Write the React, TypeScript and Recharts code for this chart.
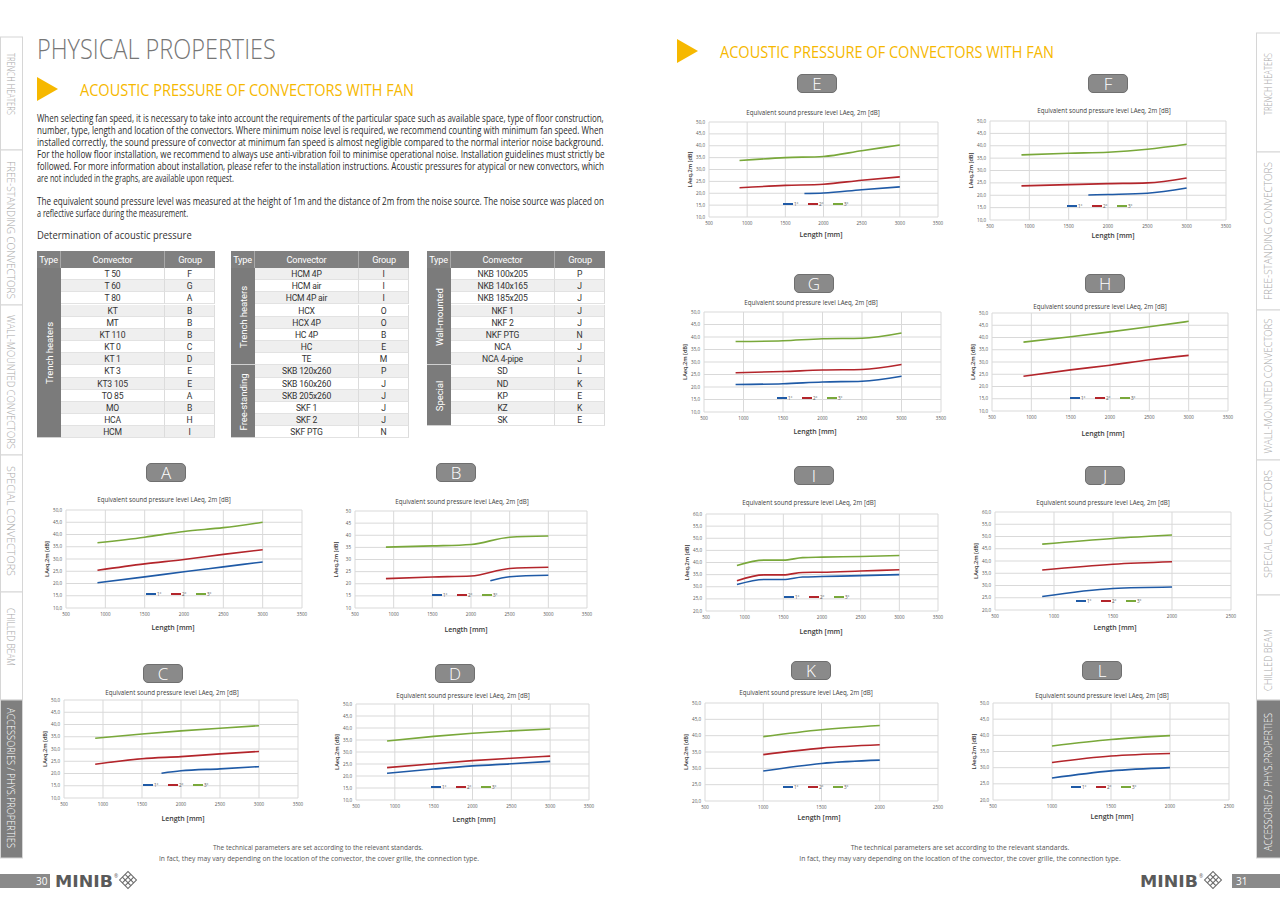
import React, { useLayoutEffect, useRef } from "react";
import { LineChart, Line, XAxis, YAxis, CartesianGrid, Legend } from "recharts";

const BLUE = "#1f5aa6";
const RED = "#b3252b";
const GREEN = "#79a83a";
const YELLOW = "#f6b800";

// tick labels
const xTicks3500 = [500, 1000, 1500, 2000, 2500, 3000, 3500];
const xTicks2500 = [500, 1000, 1500, 2000, 2500];
const yTicks10to50 = [10, 15, 20, 25, 30, 35, 40, 45, 50];
const yTicks20to60 = [20, 25, 30, 35, 40, 45, 50, 55, 60];
const yTicks20to50 = [20, 25, 30, 35, 40, 45, 50];

// A
const lenA = [900, 1500, 2000, 2500, 3000];
const a1 = [20.3, 22.7, 24.8, 26.8, 28.8];
const a2 = [25.4, 28.0, 29.8, 31.9, 33.8];
const a3 = [36.6, 38.9, 41.2, 42.8, 45.0];
// B
const lenB = [900, 1500, 2000, 2500, 3000];
const lenB1 = [2250, 2500, 3000];
const b1 = [21.2, 22.9, 23.5];
const b2 = [22.1, 22.8, 23.2, 26.3, 26.8];
const b3 = [35.1, 35.6, 36.2, 39.2, 39.7];
// C
const lenC = [900, 1500, 2000, 2500, 3000];
const lenC1 = [1750, 2000, 2500, 3000];
const c1 = [20.1, 21.1, 21.9, 22.8];
const c2 = [23.8, 26.0, 26.9, 28.0, 29.0];
const c3 = [34.4, 36.1, 37.4, 38.5, 39.5];
// D
const lenD = [900, 1500, 2000, 2500, 3000];
const d1 = [21.1, 22.9, 24.2, 25.1, 26.1];
const d2 = [23.5, 25.1, 26.4, 27.4, 28.3];
const d3 = [34.6, 36.5, 37.8, 38.8, 39.6];
// E
const lenE = [900, 1500, 2000, 2500, 3000];
const lenE1 = [1750, 2000, 2500, 3000];
const e1 = [19.9, 20.1, 21.5, 22.7];
const e2 = [22.3, 23.3, 23.8, 25.5, 26.9];
const e3 = [33.8, 35.0, 35.5, 37.9, 40.3];
// F
const lenF = [900, 1500, 2000, 2500, 3000];
const lenF1 = [1750, 2000, 2500, 3000];
const f1 = [20.1, 20.3, 20.8, 22.9];
const f2 = [23.8, 24.3, 24.7, 25.0, 27.0];
const f3 = [36.3, 37.0, 37.4, 38.6, 40.6];
// G
const lenG = [900, 1500, 2000, 2500, 3000];
const g1 = [21.0, 21.3, 22.0, 22.3, 24.3];
const g2 = [25.7, 26.2, 26.8, 27.0, 29.0];
const g3 = [38.2, 38.5, 39.3, 39.5, 41.6];
// H
const lenH = [900, 1500, 2000, 2500, 3000];
const h1: number[] = [];
const h2 = [24.2, 26.8, 28.7, 30.9, 32.7];
const h3 = [38.1, 40.3, 42.3, 44.4, 46.6];
// I
const lenI = [900, 1250, 1500, 1750, 2000, 2500, 3000];
const i1 = [30.9, 33.0, 33.0, 34.0, 34.2, 34.6, 35.0];
const i2 = [32.5, 34.9, 34.9, 35.9, 36.0, 36.5, 37.0];
const i3 = [38.8, 41.0, 41.0, 42.0, 42.2, 42.5, 42.9];
// J
const lenJ = [900, 1500, 2000];
const j1 = [25.5, 28.8, 29.4];
const j2 = [36.3, 38.7, 39.7];
const j3 = [46.9, 49.2, 50.6];
// K
const lenK = [1000, 1500, 2000];
const k1 = [29.2, 31.5, 32.5];
const k2 = [34.2, 36.2, 37.2];
const k3 = [39.7, 41.8, 43.1];
// L
const lenL = [1000, 1500, 2000];
const l1 = [26.8, 29.0, 30.0];
const l2 = [31.6, 33.6, 34.4];
const l3 = [36.7, 38.7, 39.9];

// tables
const t1Conv = ["T 50", "T 60", "T 80", "KT", "MT", "KT 110", "KT 0", "KT 1", "KT 3", "KT3 105", "TO 85", "MO", "HCA", "HCM"];
const t1Group = ["F", "G", "A", "B", "B", "B", "C", "D", "E", "E", "A", "B", "H", "I"];
const t1Types: [string, number][] = [["Trench heaters", 14]];
const t2Conv = ["HCM 4P", "HCM air", "HCM 4P air", "HCX", "HCX 4P", "HC 4P", "HC", "TE", "SKB 120x260", "SKB 160x260", "SKB 205x260", "SKF 1", "SKF 2", "SKF PTG"];
const t2Group = ["I", "I", "I", "O", "O", "B", "E", "M", "P", "J", "J", "J", "J", "N"];
const t2Types: [string, number][] = [["Trench heaters", 8], ["Free-standing", 6]];
const t3Conv = ["NKB 100x205", "NKB 140x165", "NKB 185x205", "NKF 1", "NKF 2", "NKF PTG", "NCA", "NCA 4-pipe", "SD", "ND", "KP", "KZ", "SK"];
const t3Group = ["P", "J", "J", "J", "J", "N", "J", "J", "L", "K", "E", "K", "E"];
const t3Types: [string, number][] = [["Wall-mounted", 8], ["Special", 5]];

const para = [
  "When selecting fan speed, it is necessary to take into account the requirements of the particular space such as available space, type of floor construction,",
  "number, type, length and location of the convectors. Where minimum noise level is required, we recommend counting with minimum fan speed. When",
  "installed correctly, the sound pressure of convector at minimum fan speed is almost negligible compared to the normal interior noise background.",
  "For the hollow floor installation, we recommend to always use anti-vibration foil to minimise operational noise. Installation guidelines must strictly be",
  "followed. For more information about installation, please refer to the installation instructions. Acoustic pressures for atypical or new convectors, which",
  "are not included in the graphs, are available upon request.",
];
const para2 = [
  "The equivalent sound pressure level was measured at the height of 1m and the distance of 2m from the noise source. The noise source was placed on",
  "a reflective surface during the measurement.",
];
const footer1 = "The technical parameters are set according to the relevant standards.";
const footer2 = "In fact, they may vary depending on the location of the convector, the cover grille, the connection type.";
const tabNames = ["TRENCH HEATERS", "FREE-STANDING CONVECTORS", "WALL-MOUNTED CONVECTORS", "SPECIAL CONVECTORS", "CHILLED BEAM", "ACCESSORIES / PHYS.PROPERTIES"];

type Series = { name: string; color: string; xs: number[]; ys: number[] };
type Cfg = {
  id: string;
  x0: number; x1: number; y0: number; y1: number;
  xTicks: number[]; yTicks: number[]; intY?: boolean;
  title: [number, number]; len: [number, number]; badge: [number, number]; leg: [number, number];
  series: Series[];
};

const trio = (x1: number[], y1: number[], x2: number[], y2: number[], x3: number[], y3: number[]): Series[] => [
  { name: "1°", color: BLUE, xs: x1, ys: y1 },
  { name: "2°", color: RED, xs: x2, ys: y2 },
  { name: "3°", color: GREEN, xs: x3, ys: y3 },
];

const charts: Cfg[] = [
  { id: "A", x0: 66, x1: 302, y0: 510, y1: 608, xTicks: xTicks3500, yTicks: yTicks10to50, title: [164, 500], len: [173, 627], badge: [146, 463], leg: [146, 594], series: trio(lenA, a1, lenA, a2, lenA, a3) },
  { id: "B", x0: 355, x1: 587, y0: 511, y1: 608, xTicks: xTicks3500, yTicks: yTicks10to50, intY: true, title: [462, 502], len: [466, 629], badge: [436, 463], leg: [432, 595], series: trio(lenB1, b1, lenB, b2, lenB, b3) },
  { id: "C", x0: 64, x1: 298, y0: 700, y1: 798, xTicks: xTicks3500, yTicks: yTicks10to50, title: [172, 693], len: [183, 818], badge: [143, 664], leg: [143, 785], series: trio(lenC1, c1, lenC, c2, lenC, c3) },
  { id: "D", x0: 356, x1: 589, y0: 704, y1: 800, xTicks: xTicks3500, yTicks: yTicks10to50, title: [463, 696], len: [474, 819], badge: [435, 664], leg: [431, 787], series: trio(lenD, d1, lenD, d2, lenD, d3) },
  { id: "E", x0: 709, x1: 938, y0: 122, y1: 217, xTicks: xTicks3500, yTicks: yTicks10to50, title: [813, 113], len: [821, 234], badge: [797, 74], leg: [783, 204], series: trio(lenE1, e1, lenE, e2, lenE, e3) },
  { id: "F", x0: 990, x1: 1226, y0: 121, y1: 220, xTicks: xTicks3500, yTicks: yTicks10to50, title: [1104, 111], len: [1113, 235], badge: [1088, 74], leg: [1067, 206], series: trio(lenF1, f1, lenF, f2, lenF, f3) },
  { id: "G", x0: 704, x1: 941, y0: 312, y1: 412, xTicks: xTicks3500, yTicks: yTicks10to50, title: [811, 303], len: [815, 431], badge: [794, 274], leg: [777, 398], series: trio(lenG, g1, lenG, g2, lenG, g3) },
  { id: "H", x0: 992, x1: 1228, y0: 313, y1: 411, xTicks: xTicks3500, yTicks: yTicks10to50, title: [1100, 307], len: [1103, 433], badge: [1085, 274], leg: [1070, 398], series: trio(lenH, h1, lenH, h2, lenH, h3) },
  { id: "I", x0: 706, x1: 938, y0: 514, y1: 611, xTicks: xTicks3500, yTicks: yTicks20to60, title: [809, 503], len: [821, 631], badge: [794, 466], leg: [784, 597], series: trio(lenI, i1, lenI, i2, lenI, i3) },
  { id: "J", x0: 995, x1: 1231, y0: 512, y1: 610, xTicks: xTicks2500, yTicks: yTicks20to60, title: [1103, 503], len: [1115, 627], badge: [1085, 466], leg: [1076, 601], series: trio(lenJ, j1, lenJ, j2, lenJ, j3) },
  { id: "K", x0: 705, x1: 938, y0: 703, y1: 801, xTicks: xTicks2500, yTicks: yTicks20to50, title: [806, 693], len: [819, 817], badge: [791, 661], leg: [783, 787], series: trio(lenK, k1, lenK, k2, lenK, k3) },
  { id: "L", x0: 993, x1: 1229, y0: 703, y1: 800, xTicks: xTicks2500, yTicks: yTicks20to50, title: [1102, 696], len: [1112, 816], badge: [1082, 661], leg: [1071, 787], series: trio(lenL, l1, lenL, l2, lenL, l3) },
];

const CHART_FONT = "'Open Sans', 'Noto Sans', sans-serif";

// svg text squeezed (by a real transform) to a given width, so its box is the drawn box
function FitText({ x, y, width, anchor = "start", rotate = 0, children, ...rest }: any) {
  const ref = useRef<SVGTextElement>(null);
  useLayoutEffect(() => {
    const el = ref.current;
    if (!el) return;
    el.removeAttribute("transform");
    const w = el.getComputedTextLength();
    if (!w) return;
    const s = width / w;
    const pre = rotate ? `rotate(${rotate} ${x} ${y}) ` : "";
    el.setAttribute("transform", `${pre}translate(${x} ${y}) scale(${s} 1) translate(${-x} ${-y})`);
  }, [x, y, width, rotate, children]);
  return (
    <text ref={ref} x={x} y={y} textAnchor={anchor} {...rest}>{children}</text>
  );
}

function YLab({ viewBox }: any) {
  if (!viewBox) return null;
  const x = viewBox.x + 5;
  const y = viewBox.y + viewBox.height / 2;
  return (
    <text x={x} y={y} transform={`rotate(-90 ${x} ${y})`} textAnchor="middle" dominantBaseline="central"
      fontSize={5.6} fontWeight={600} fill="#3a3a3a" fontFamily={CHART_FONT}>
      LAeq,2m [dB]
    </text>
  );
}

function XLab({ viewBox, dx, dy }: any) {
  if (!viewBox) return null;
  return (
    <text x={viewBox.x + viewBox.width / 2 + dx} y={viewBox.y + dy} textAnchor="middle" dominantBaseline="central"
      fontSize={7} fontWeight={600} fill="#3a3a3a" fontFamily={CHART_FONT}>
      Length [mm]
    </text>
  );
}

function LegendRow({ payload }: any) {
  return (
    <div style={{ display: "flex", height: 8, alignItems: "center" }}>
      {(payload || []).map((p: any) => (
        <div key={p.value} style={{ display: "flex", alignItems: "center", width: 25 }}>
          <span style={{ display: "inline-block", width: 10, height: 2, background: p.color }} />
          <span style={{ fontSize: 4.5, color: "#555", marginLeft: 1, fontFamily: CHART_FONT }}>{p.value}</span>
        </div>
      ))}
    </div>
  );
}

function Badge({ x, y, label }: { x: number; y: number; label: string }) {
  return (
    <div style={{
      position: "absolute", left: x, top: y, width: 40, height: 19, boxSizing: "border-box",
      background: "#8a8a8a", border: "1px solid #6f6f6f", borderRadius: 5, color: "#fff",
      fontFamily: "'Open Sans', sans-serif", fontWeight: 300, fontSize: 17, lineHeight: "17px", textAlign: "center",
    }}>{label}</div>
  );
}

function SoundChart({ c }: { c: Cfg }) {
  const yw = 24, mt = 6, mr = 10;
  const plotW = c.x1 - c.x0, plotH = c.y1 - c.y0;
  const xh = c.len[1] - c.y1 + 6;
  const left = c.x0 - yw, top = c.y0 - mt;
  const W = plotW + yw + mr, H = mt + plotH + xh;
  const fmt = (v: number) => (c.intY ? String(v) : v.toFixed(1).replace(".", ","));
  return (
    <>
      <Badge x={c.badge[0]} y={c.badge[1]} label={c.id} />
      <div style={{
        position: "absolute", left: c.title[0] - 70, top: c.title[1] - 4, width: 140, textAlign: "center",
        fontFamily: CHART_FONT, fontSize: 6.2, lineHeight: "8px", color: "#404040", whiteSpace: "nowrap",
      }}>Equivalent sound pressure level LAeq, 2m [dB]</div>
      <div style={{ position: "absolute", left, top, width: W, height: H }}>
        <LineChart width={W} height={H} margin={{ top: mt, right: mr, bottom: 0, left: 0 }} style={{ fontFamily: CHART_FONT }}>
          <CartesianGrid stroke="#d9d9d9" strokeWidth={1} />
          <XAxis dataKey="len" type="number" domain={[c.xTicks[0], c.xTicks[c.xTicks.length - 1]]} ticks={c.xTicks}
            interval={0} axisLine={false} tickLine={false} tickSize={4} tickMargin={1} height={xh}
            tick={{ fontSize: 4.5, fill: "#555" }}
            label={<XLab dx={c.len[0] - (c.x0 + c.x1) / 2} dy={c.len[1] - c.y1} />} />
          <YAxis type="number" domain={[c.yTicks[0], c.yTicks[c.yTicks.length - 1]]} ticks={c.yTicks}
            interval={0} axisLine={false} tickLine={false} tickSize={3} tickMargin={1} width={yw}
            tick={{ fontSize: 4.5, fill: "#555" }} tickFormatter={fmt} label={<YLab />} />
          {c.series.map((s) => (
            <Line key={s.name} name={s.name} data={s.xs.map((x, i) => ({ len: x, db: s.ys[i] }))} dataKey="db"
              type="monotone" stroke={s.color} strokeWidth={1.6} dot={false} activeDot={false} isAnimationActive={false} />
          ))}
          <Legend layout="horizontal" verticalAlign="middle" align="center" content={<LegendRow />}
            wrapperStyle={{ left: c.leg[0] - left, top: c.leg[1] - top - 4, width: 80, height: 8 }} />
        </LineChart>
      </div>
    </>
  );
}

function ConvTable({ left, conv, group, types, grayFirst }: {
  left: number; conv: string[]; group: string[]; types: [string, number][]; grayFirst?: boolean;
}) {
  const wT = 24, wC = 104, wG = 50;
  const top = 251, hh = 17, rh = 12.17;
  const cell: React.CSSProperties = {
    position: "absolute", boxSizing: "border-box", textAlign: "center", fontFamily: "Roboto, sans-serif",
    fontSize: 8.6, color: "#333", letterSpacing: -0.2,
  };
  const head: React.CSSProperties = { ...cell, top, height: hh, lineHeight: `${hh}px`, background: "#808080", color: "#fff", fontSize: 9.2 };
  let acc = 0;
  return (
    <div style={{ position: "absolute", left: 0, top: 0 }}>
      <div style={{ ...head, left, width: wT, borderRight: "1px solid #a8a8a8" }}>Type</div>
      <div style={{ ...head, left: left + wT, width: wC, borderRight: "1px solid #a8a8a8" }}>Convector</div>
      <div style={{ ...head, left: left + wT + wC, width: wG }}>Group</div>
      {types.map(([name, n]) => {
        const y = top + hh + acc * rh;
        acc += n;
        return (
          <div key={name} style={{
            position: "absolute", left, top: y, width: wT, height: n * rh, background: "#7b7b7b",
            borderBottom: "1px solid #d0d0d0", boxSizing: "border-box",
          }}>
            <div style={{
              position: "absolute", left: wT / 2, top: (n * rh) / 2, transform: "translate(-50%, -50%) rotate(-90deg)",
              whiteSpace: "nowrap", color: "#fff", fontFamily: "Roboto, sans-serif", fontSize: 9.6, letterSpacing: -0.1,
            }}>{name}</div>
          </div>
        );
      })}
      {conv.map((cv, i) => {
        const gray = (i % 2 === 1) !== !!grayFirst;
        const bg = gray ? "#efefef" : "#ffffff";
        const y = top + hh + i * rh;
        const row: React.CSSProperties = { ...cell, top: y, height: rh, lineHeight: `${rh}px`, background: bg, borderBottom: "1px solid #e2e2e2" };
        return (
          <React.Fragment key={cv}>
            <div style={{ ...row, left: left + wT, width: wC, borderRight: "1px solid #dcdcdc" }}>{cv}</div>
            <div style={{ ...row, left: left + wT + wC, width: wG, borderRight: "1px solid #dcdcdc" }}>{group[i]}</div>
          </React.Fragment>
        );
      })}
    </div>
  );
}

const leftTabs: [number, number][] = [[37, 150], [150, 305], [305, 455], [455, 592], [592, 700], [700, 858]];
const leftTabText: [number, number][] = [[84, 62], [230, 138], [382, 134], [521, 110], [637, 58], [778, 140]];
const rightTabs: [number, number][] = [[33, 152], [152, 310], [310, 460], [460, 595], [595, 700], [700, 858]];
const rightTabText: [number, number][] = [[84, 62], [231, 138], [386, 135], [524, 108], [660, 62], [782, 138]];

function Logo({ x }: { x: number }) {
  return (
    <g>
      <FitText x={x} y={887} width={58} fontFamily="'DejaVu Sans', sans-serif" fontWeight={700} fontSize={15} fill="#5a5a5a">MINIB</FitText>
      <text x={x + 59} y={878} fontSize={5} fill="#5a5a5a">®</text>
      <g transform={`translate(${x + 73} ${880}) rotate(45)`}>
        <rect x={-6} y={-6} width={12} height={12} fill="none" stroke="#6a6a6a" strokeWidth={1} />
        <line x1={-6} y1={-2} x2={6} y2={-2} stroke="#6a6a6a" strokeWidth={1.2} />
        <line x1={-6} y1={2} x2={6} y2={2} stroke="#6a6a6a" strokeWidth={1.2} />
        <line x1={-2} y1={-6} x2={-2} y2={6} stroke="#6a6a6a" strokeWidth={1.2} />
        <line x1={2} y1={-6} x2={2} y2={6} stroke="#6a6a6a" strokeWidth={1.2} />
      </g>
    </g>
  );
}

export default function App() {
  const body = "'Open Sans', 'Noto Sans', sans-serif";
  return (
    <div style={{ position: "absolute", left: 0, top: 0, width: 1280, height: 905, background: "#fff", overflow: "hidden" }}>
      <svg width={1280} height={905} style={{ position: "absolute", left: 0, top: 0 }} fontFamily={body}>
        {/* left page header */}
        <FitText x={37} y={59} width={239} fontSize={27} fontWeight={300} fill="#767676">PHYSICAL PROPERTIES</FitText>
        <polygon points="37,77 58,89 37,101" fill={YELLOW} />
        <FitText x={80} y={96} width={334} fontSize={16.5} fill={YELLOW}>ACOUSTIC PRESSURE OF CONVECTORS WITH FAN</FitText>
        {para.map((t, i) => (
          <FitText key={i} x={37} y={122 + i * 12} width={i < para.length - 1 ? 567 : 197} fontSize={10.2} fill="#2a2a2a">{t}</FitText>
        ))}
        {para2.map((t, i) => (
          <FitText key={i} x={37} y={205 + i * 12} width={i === 0 ? 567 : 151} fontSize={10.2} fill="#2a2a2a">{t}</FitText>
        ))}
        <FitText x={37} y={239} width={155} fontSize={11.5} fill="#333">Determination of acoustic pressure</FitText>

        {/* right page header */}
        <polygon points="677,39 698,51 677,63" fill={YELLOW} />
        <FitText x={720} y={58} width={334} fontSize={16.5} fill={YELLOW}>ACOUSTIC PRESSURE OF CONVECTORS WITH FAN</FitText>

        {/* footers */}
        <FitText x={318} y={850} width={210} anchor="middle" fontSize={7.4} fill="#555">{footer1}</FitText>
        <FitText x={319} y={861} width={320} anchor="middle" fontSize={7.4} fill="#555">{footer2}</FitText>
        <FitText x={960} y={850} width={219} anchor="middle" fontSize={7.4} fill="#555">{footer1}</FitText>
        <FitText x={960} y={861} width={321} anchor="middle" fontSize={7.4} fill="#555">{footer2}</FitText>

        {/* side tabs */}
        {leftTabs.map(([a, b], i) => (
          <rect key={"l" + i} x={0.5} y={a} width={22} height={b - a} fill={i === 5 ? "#7f7f7f" : "#fff"} stroke="#d6d6d6" />
        ))}
        {leftTabText.map(([cy, len], i) => (
          <FitText key={"lt" + i} x={11} y={cy} width={len} rotate={90} anchor="middle" dominantBaseline="central"
            fontSize={10} fontWeight={300} fill={i === 5 ? "#fff" : "#a8a8a8"}>{tabNames[i]}</FitText>
        ))}
        {rightTabs.map(([a, b], i) => (
          <rect key={"r" + i} x={1256.5} y={a} width={24} height={b - a} fill={i === 5 ? "#7f7f7f" : "#fff"} stroke="#d6d6d6" />
        ))}
        {rightTabText.map(([cy, len], i) => (
          <FitText key={"rt" + i} x={1268} y={cy} width={len} rotate={-90} anchor="middle" dominantBaseline="central"
            fontSize={10} fontWeight={300} fill={i === 5 ? "#fff" : "#a8a8a8"}>{tabNames[i]}</FitText>
        ))}

        {/* bottom bars + logos */}
        <rect x={0} y={874} width={50} height={14} fill="#8a8a8a" />
        <text x={36} y={885} fontSize={10} fill="#fff">30</text>
        <Logo x={55} />
        <rect x={1232} y={874} width={48} height={14} fill="#8a8a8a" />
        <text x={1236} y={885} fontSize={10} fill="#fff">31</text>
        <Logo x={1140} />
      </svg>

      <ConvTable left={37} conv={t1Conv} group={t1Group} types={t1Types} />
      <ConvTable left={231} conv={t2Conv} group={t2Group} types={t2Types} grayFirst />
      <ConvTable left={427} conv={t3Conv} group={t3Group} types={t3Types} />

      {charts.map((c) => (
        <SoundChart key={c.id} c={c} />
      ))}
    </div>
  );
}
